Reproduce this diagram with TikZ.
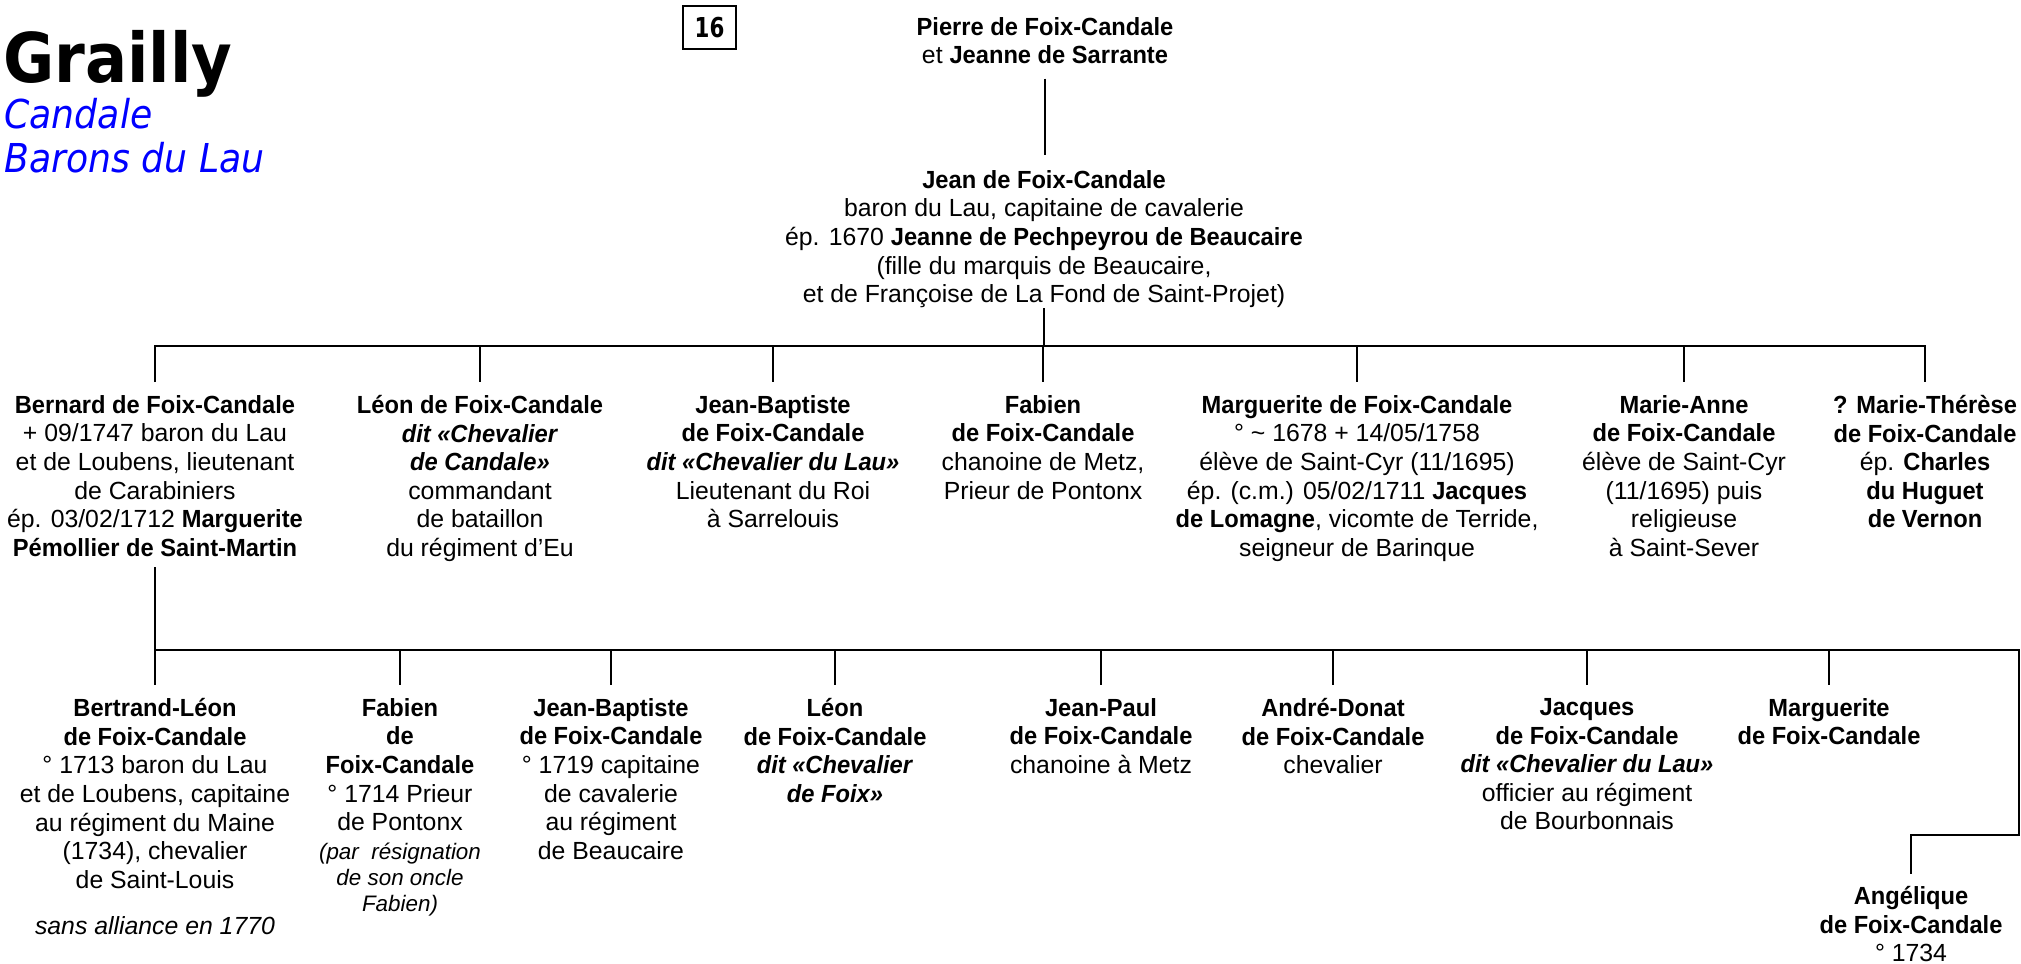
\documentclass[tikz,border=0pt]{standalone}
\usepackage{fontspec}
\setmainfont{Liberation Sans}[BoldFeatures={FakeStretch=0.955},BoldItalicFeatures={FakeStretch=0.955}]
\newfontfamily\titlefont[FakeStretch=0.91]{DejaVu Sans}
\newfontfamily\boxfont[FakeStretch=0.78]{DejaVu Sans}
\usepackage{xcolor}
\usepackage{tikz}

\begin{document}
\begin{tikzpicture}[x=0.5pt,y=0.5pt,yscale=-1,xscale=1,
	person/.style={anchor=north, align=center, inner sep=0pt, font=\fontsize{12.4}{14.3}\selectfont},
	link/.style={line width=1.3pt},
	drop/.style={link, shorten >=6.5pt}]
	\useasboundingbox (0,0) rectangle (2021,963);
	
	% Title
	\node [anchor=base west, inner sep=0pt, font=\titlefont\bfseries\fontsize{34.3}{40}\selectfont] (grailly) at (3,83) {Grailly};
	\node [anchor=base west, inner sep=0pt, text=blue, font=\titlefont\itshape\fontsize{19.9}{24}\selectfont] (candale) at (4,128) {Candale};
	\node [anchor=base west, inner sep=0pt, text=blue, font=\titlefont\itshape\fontsize{19.9}{24}\selectfont] (barons) at (4,172) {Barons du Lau};
	% Box
	\node [draw, line width=1.2pt, minimum width=26.5pt, minimum height=21.5pt, inner sep=0pt, font=\boxfont\bfseries\fontsize{13.7}{16}\selectfont] (page) at (709.5,27.5) {16};
	
	% Text Node
	\node [person] (pierre) at (1045,17) {\textbf{Pierre de Foix-Candale}\\et \textbf{Jeanne de Sarrante}};
	% Text Node
	\node [person] (jean) at (1044,170) {\textbf{Jean de Foix-Candale}\\baron du Lau, capitaine de cavalerie\\ép. 1670 \textbf{Jeanne de Pechpeyrou de Beaucaire}\\(fille du marquis de Beaucaire,\\et de Françoise de La Fond de Saint-Projet)};
	
	% Text Node
	\node [person] (bernard) at (155,395) {\textbf{Bernard de Foix-Candale}\\+ 09/1747 baron du Lau\\et de Loubens, lieutenant\\de Carabiniers\\ép. 03/02/1712 \textbf{Marguerite}\\\textbf{Pémollier de Saint-Martin}};
	% Text Node
	\node [person] (leon) at (480,395) {\textbf{Léon de Foix-Candale}\\\textbf{\textit{dit «Chevalier}}\\\textbf{\textit{de Candale»}}\\commandant\\de bataillon\\du régiment d’Eu};
	% Text Node
	\node [person] (jbaptiste) at (773,395) {\textbf{Jean-Baptiste}\\\textbf{de Foix-Candale}\\\textbf{\textit{dit «Chevalier du Lau»}}\\Lieutenant du Roi\\à Sarrelouis};
	% Text Node
	\node [person] (fabien) at (1043,395) {\textbf{Fabien}\\\textbf{de Foix-Candale}\\chanoine de Metz,\\Prieur de Pontonx};
	% Text Node
	\node [person] (marguerite) at (1357,395) {\textbf{Marguerite de Foix-Candale}\\° \textasciitilde{} 1678 + 14/05/1758\\élève de Saint-Cyr (11/1695)\\ép. (c.m.) 05/02/1711 \textbf{Jacques}\\\textbf{de Lomagne}, vicomte de Terride,\\seigneur de Barinque};
	% Text Node
	\node [person] (marieanne) at (1684,395) {\textbf{Marie-Anne}\\\textbf{de Foix-Candale}\\élève de Saint-Cyr\\(11/1695) puis\\religieuse\\à Saint-Sever};
	% Text Node
	\node [person] (therese) at (1925,395) {\textbf{? Marie-Thérèse}\\\textbf{de Foix-Candale}\\ép. \textbf{Charles}\\\textbf{du Huguet}\\\textbf{de Vernon}};
	
	% Text Node
	\node [person] (bertrand) at (155,698) {\textbf{Bertrand-Léon}\\\textbf{de Foix-Candale}\\° 1713 baron du Lau\\et de Loubens, capitaine\\au régiment du Maine\\(1734), chevalier\\de Saint-Louis\\[8.6pt]\textit{sans alliance en 1770}};
	% Text Node
	\node [person] (fabienb) at (400,698) {\textbf{Fabien}\\\textbf{de}\\\textbf{Foix-Candale}\\° 1714 Prieur\\de Pontonx};
	\node [person, font=\itshape\fontsize{11.2}{12.8}\selectfont] (fabiennote) at (400,843) {(par\ \ résignation\\de son oncle\\Fabien)};
	% Text Node
	\node [person] (jbaptisteb) at (611,698) {\textbf{Jean-Baptiste}\\\textbf{de Foix-Candale}\\° 1719 capitaine\\de cavalerie\\au régiment\\de Beaucaire};
	% Text Node
	\node [person] (leonb) at (835,698) {\textbf{Léon}\\\textbf{de Foix-Candale}\\\textbf{\textit{dit «Chevalier}}\\\textbf{\textit{de Foix»}}};
	% Text Node
	\node [person] (jeanpaul) at (1101,698) {\textbf{Jean-Paul}\\\textbf{de Foix-Candale}\\chanoine à Metz};
	% Text Node
	\node [person] (andre) at (1333,698) {\textbf{André-Donat}\\\textbf{de Foix-Candale}\\chevalier};
	% Text Node
	\node [person] (jacques) at (1587,698) {\textbf{Jacques}\\\textbf{de Foix-Candale}\\\textbf{\textit{dit «Chevalier du Lau»}}\\officier au régiment\\de Bourbonnais};
	% Text Node
	\node [person] (margueriteb) at (1829,698) {\textbf{Marguerite}\\\textbf{de Foix-Candale}};
	% Text Node
	\node [person] (angelique) at (1911,886) {\textbf{Angélique}\\\textbf{de Foix-Candale}\\° 1734};
	
	%Straight Lines
	\coordinate (bar1) at (1044,346);
	\coordinate (bar2) at (155,650);
	\coordinate (edge) at (2019,650);
	\coordinate (turn) at (2019,835);
	\draw [link, shorten <=7pt, shorten >=7.5pt] (pierre.south) -- (pierre.south |- jean.north);
	\draw [link] (jean.south) -- (jean.south |- bar1);
	\draw [link, shorten <=6.5pt, shorten >=6.5pt] (bernard.north) -- (bernard.north |- bar1) -- (therese.north |- bar1) -- (therese.north);
	\foreach \kid in {leon,jbaptiste,fabien,marguerite,marieanne}
		\draw [drop] (\kid.north |- bar1) -- (\kid.north);
	%Straight Lines
	\draw [link, shorten <=5pt, shorten >=6pt] (bernard.south) -- (bar2) -- (edge) -- (turn) -| (angelique.north);
	\draw [drop] (bar2) -- (bertrand.north);
	\foreach \kid in {fabienb,jbaptisteb,leonb,jeanpaul,andre,jacques,margueriteb}
		\draw [drop] (\kid.north |- bar2) -- (\kid.north);
	
\end{tikzpicture}
\end{document}
